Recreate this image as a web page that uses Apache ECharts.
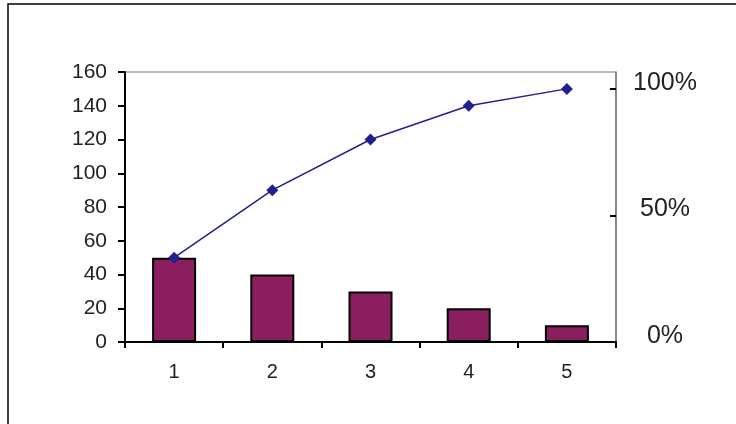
<!DOCTYPE html>
<html><head><meta charset="utf-8">
<script src="https://cdn.jsdelivr.net/npm/echarts@6/dist/echarts.min.js"></script>
<style>html,body{margin:0;padding:0;background:#fff}#c{width:736px;height:424px}</style>
</head><body><div id="c"></div>
<script>
const categories = ['1', '2', '3', '4', '5'];
const counts = [50, 40, 30, 20, 10];
const cumulative = [50, 90, 120, 140, 150];
const leftTicks = [0, 20, 40, 60, 80, 100, 120, 140, 160];
const rightTicks = [0, 50, 100];

const total = cumulative[cumulative.length - 1];
const leftMax = leftTicks[leftTicks.length - 1];
const rightMax = leftMax / total * 100;

const chart = echarts.init(document.getElementById('c'));
chart.setOption({
  animation: false,
  backgroundColor: '#fff',
  graphic: [{
    type: 'rect', shape: { x: 8, y: 4, width: 760, height: 460 },
    style: { fill: 'none', stroke: '#000', lineWidth: 1.5 }, silent: true
  }],
  grid: { left: 125, top: 72, width: 491, height: 270, show: true, borderColor: '#777', borderWidth: 1, backgroundColor: 'transparent' },
  xAxis: {
    type: 'category', data: categories, boundaryGap: true,
    axisLine: { lineStyle: { color: '#000', width: 2 } },
    axisTick: { show: true, length: 6, alignWithLabel: false, lineStyle: { color: '#000', width: 2 } },
    axisLabel: { fontFamily: 'Liberation Sans', fontSize: 20, color: '#222', margin: 20 }
  },
  yAxis: [{
    type: 'value', min: 0, max: leftMax, interval: 20,
    axisLine: { show: true, lineStyle: { color: '#000', width: 2 } },
    axisTick: { show: true, length: 7, lineStyle: { color: '#000', width: 2 } },
    splitLine: { show: false },
    axisLabel: { fontFamily: 'Liberation Sans', fontSize: 21, color: '#222', margin: 18 }
  }, {
    type: 'value', min: 0, max: rightMax, position: 'right',
    axisLine: { show: true, lineStyle: { color: '#777', width: 1.5 } },
    axisTick: { show: true, inside: true, length: 6, customValues: rightTicks, lineStyle: { color: '#000', width: 2 } },
    splitLine: { show: false },
    axisLabel: { customValues: rightTicks, fontFamily: 'Liberation Sans', fontSize: 25, color: '#222', margin: 49,
      align: 'center', formatter: v => v + '%', verticalAlign: 'bottom', lineHeight: 12 }
  }],
  series: [{
    type: 'bar', data: counts, barWidth: 44, yAxisIndex: 0,
    itemStyle: { color: '#8a1e5e', borderColor: '#000', borderWidth: 2 }
  }, {
    type: 'line', data: cumulative, yAxisIndex: 0,
    symbol: 'diamond', symbolSize: 12,
    lineStyle: { color: '#20208f', width: 1.5 },
    itemStyle: { color: '#20208f' }
  }]
});
</script></body></html>
